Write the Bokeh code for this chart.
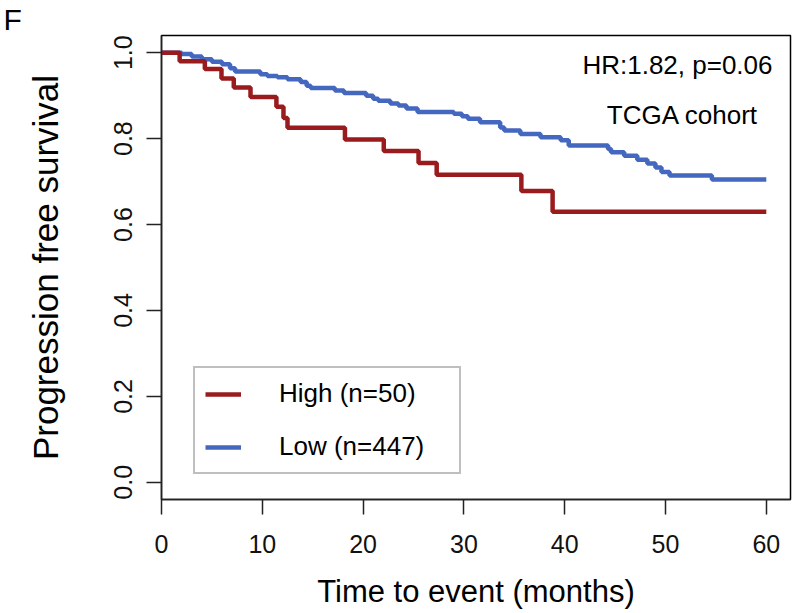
from bokeh.plotting import figure
from bokeh.models import Range1d, FixedTicker, Label, Legend, LegendItem
from bokeh.embed import file_html
from bokeh.resources import INLINE

# ---- data ----
time_high = [0, 1.8, 4.3, 5.95, 7.17, 8.83, 11.4, 12.1, 12.5, 18.2, 22.05, 25.5, 27.3, 35.7, 38.8, 60]
surv_high = [1.0, 0.98, 0.962, 0.94, 0.919, 0.897, 0.874, 0.848, 0.825, 0.798, 0.771, 0.743, 0.716, 0.678, 0.630, 0.630]

time_low = [0, 2.0, 3.0, 4.0, 5.0, 6.0, 6.8, 7.3, 9.8, 10.5, 11.5, 12.5, 13.8, 14.4, 14.8, 17.2,
            18.1, 20.3, 21.0, 21.5, 22.7, 23.5, 24.3, 25.4, 29.0, 29.8, 30.4, 31.6, 33.6, 34.0,
            35.6, 37.6, 39.6, 40.4, 44.3, 44.6, 45.9, 47.2, 48.2, 49.0, 49.6, 50.4, 54.6, 60]
surv_low = [1.0, 0.997, 0.991, 0.985, 0.979, 0.973, 0.964, 0.956, 0.950, 0.946, 0.943, 0.938, 0.932, 0.923, 0.918, 0.912,
            0.906, 0.900, 0.893, 0.888, 0.882, 0.877, 0.870, 0.862, 0.858, 0.852, 0.846, 0.838, 0.826, 0.819,
            0.811, 0.803, 0.796, 0.784, 0.776, 0.768, 0.760, 0.751, 0.742, 0.733, 0.722, 0.714, 0.705, 0.705]

x_ticks = [0, 10, 20, 30, 40, 50, 60]
y_ticks = [0.0, 0.2, 0.4, 0.6, 0.8, 1.0]
y_tick_labels = {0.0: "0.0", 0.2: "0.2", 0.4: "0.4", 0.6: "0.6", 0.8: "0.8", 1.0: "1.0"}

label_high = "High (n=50)"
label_low = "Low (n=447)"
hr_text = "HR:1.82, p=0.06"
cohort_text = "TCGA cohort"
panel_letter = "F"

RED = "#9A1B1E"
BLUE = "#4467BF"
FONT = "Liberation Sans"

p = figure(width=792, height=611, output_backend="svg", toolbar_location=None,
           x_range=Range1d(0, 62.4), y_range=Range1d(-0.04, 1.04),
           min_border_left=161, min_border_right=2, min_border_top=34, min_border_bottom=109,
           title=panel_letter)
p.grid.visible = False
p.outline_line_color = "black"
p.outline_line_width = 1.5
p.background_fill_color = "white"
p.border_fill_color = "white"

p.title.text_font = FONT
p.title.text_font_size = "30px"
p.title.text_font_style = "normal"
p.title.text_color = "black"
p.title.align = "left"
p.title.offset = -158
p.title.standoff = 0

r_low = p.step(time_low, surv_low, mode="after", line_color=BLUE, line_width=4.5)
r_high = p.step(time_high, surv_high, mode="after", line_color=RED, line_width=4.5)

legend = Legend(items=[LegendItem(label=label_high, renderers=[r_high]),
                       LegendItem(label=label_low, renderers=[r_low])],
                location=(32, 25), margin=0, padding=10, spacing=22,
                glyph_width=36, glyph_height=28, label_height=28, label_width=170,
                label_standoff=38, label_text_font=FONT, label_text_font_size="26px",
                label_text_color="black", border_line_color="#808080", border_line_width=2,
                background_fill_alpha=1.0)
p.add_layout(legend, "center")

# axes
for ax in (p.xaxis[0], p.yaxis[0]):
    ax.major_tick_out = 15
    ax.major_tick_in = 0
    ax.minor_tick_out = 0
    ax.minor_tick_in = 0
    ax.axis_line_color = "#222222"
    ax.axis_line_width = 1.5
    ax.major_tick_line_color = "#222222"
    ax.major_tick_line_width = 1.5
    ax.major_label_text_font = FONT
    ax.major_label_text_font_size = "25px"
    ax.major_label_text_color = "#111111"
    ax.axis_label_text_font = FONT
    ax.axis_label_text_font_style = "normal"
    ax.axis_label_text_color = "black"

p.xaxis.ticker = FixedTicker(ticks=x_ticks)
p.yaxis.ticker = FixedTicker(ticks=y_ticks)
p.yaxis.major_label_overrides = y_tick_labels
p.yaxis.major_label_orientation = "vertical"
p.xaxis.major_label_standoff = 20
p.yaxis.major_label_standoff = 14
p.xaxis.axis_label = "Time to event (months)"
p.yaxis.axis_label = "Progression free survival"
p.xaxis.axis_label_text_font_size = "31px"
p.yaxis.axis_label_text_font_size = "35px"
p.xaxis.axis_label_standoff = 18
p.yaxis.axis_label_standoff = 47

# annotations
p.add_layout(Label(x=611, y=435, x_units="screen", y_units="screen", text=hr_text,
                   text_align="right", text_baseline="alphabetic", text_font=FONT,
                   text_font_size="26px", text_color="black"))
p.add_layout(Label(x=597, y=385, x_units="screen", y_units="screen", text=cohort_text,
                   text_align="right", text_baseline="alphabetic", text_font=FONT,
                   text_font_size="26px", text_color="black"))

open("out.html", "w").write(file_html(p, INLINE))
